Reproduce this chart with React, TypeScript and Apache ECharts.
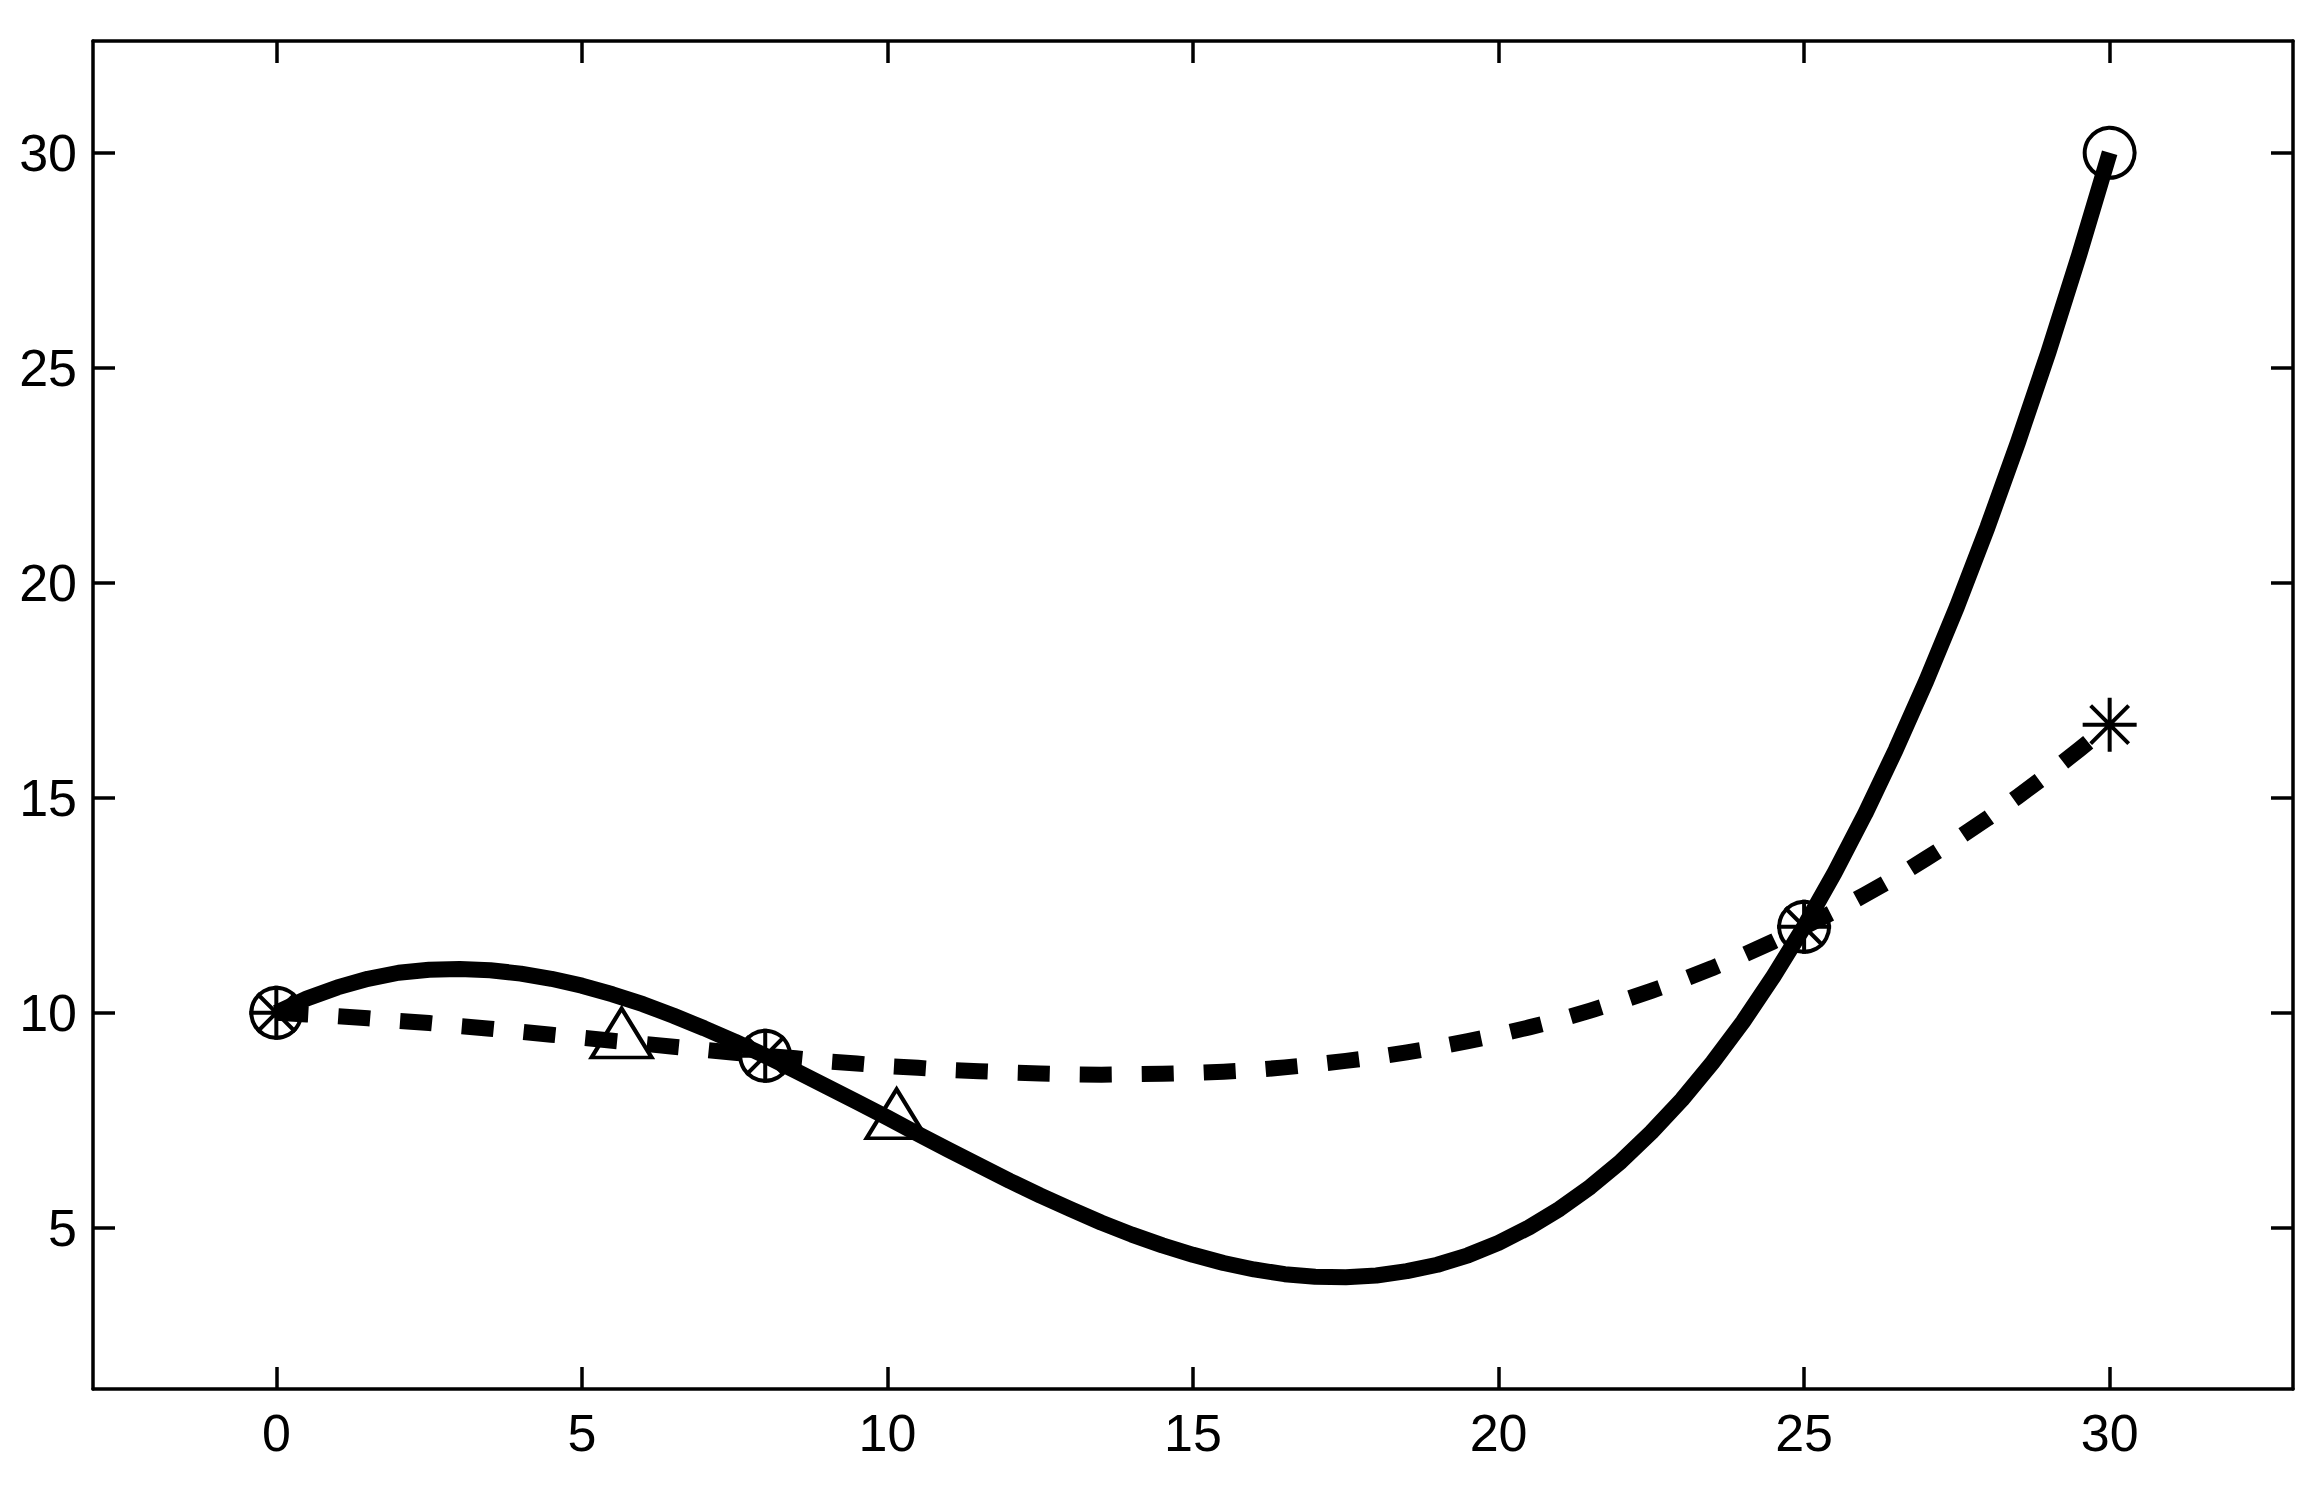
import React, { useEffect, useRef } from "react";
import * as echarts from "echarts";

const xValues = [0,0.5,1,1.5,2,2.5,3,3.5,4,4.5,5,5.5,6,6.5,7,7.5,8,8.5,9,9.5,10,10.5,11,11.5,12,12.5,13,13.5,14,14.5,15,15.5,16,16.5,17,17.5,18,18.5,19,19.5,20,20.5,21,21.5,22,22.5,23,23.5,24,24.5,25,25.5,26,26.5,27,27.5,28,28.5,29,29.5,30];
const solidValues = [10,10.33,10.59,10.79,10.93,11.0,11.02,10.99,10.91,10.79,10.63,10.43,10.2,9.93,9.64,9.33,9,8.65,8.29,7.93,7.56,7.18,6.81,6.45,6.09,5.75,5.43,5.12,4.84,4.59,4.37,4.18,4.03,3.92,3.86,3.85,3.89,3.99,4.14,4.36,4.65,5.01,5.44,5.95,6.54,7.22,7.98,8.84,9.79,10.85,12,13.26,14.63,16.12,17.72,19.44,21.29,23.27,25.37,27.62,30];
const dashedValues = [10,9.96,9.92,9.87,9.81,9.76,9.69,9.63,9.56,9.49,9.42,9.35,9.28,9.21,9.14,9.07,9,8.94,8.87,8.82,8.76,8.72,8.67,8.64,8.61,8.59,8.57,8.56,8.57,8.58,8.6,8.63,8.67,8.73,8.8,8.88,8.97,9.08,9.2,9.34,9.49,9.66,9.84,10.05,10.27,10.51,10.76,11.04,11.34,11.66,12,12.36,12.75,13.15,13.59,14.04,14.52,15.03,15.56,16.12,16.7];
const circlePoints = [[0,10],[8,9],[25,12],[30,30]];
const starPoints = [[0,10],[8,9],[25,12],[30,16.7]];
const trianglePoints = [[5.65,9.53],[10.15,7.65]];
const xTicks = [0,5,10,15,20,25,30];
const yTicks = [5,10,15,20,25,30];

const asterisk =
  "path://M0,25H54V29H0Z M25,0H29V54H25Z M9.41,6.59L47.41,44.59L44.59,47.41L6.59,9.41Z M44.59,6.59L47.41,9.41L9.41,47.41L6.59,44.59Z";

export default function App() {
  const ref = useRef<HTMLDivElement>(null);
  useEffect(() => {
    document.body.style.margin = "0";
    const chart = echarts.init(ref.current!, null, { renderer: "svg" });
    const lineAxis = { show: true, onZero: false, lineStyle: { color: "#000", width: 3.5 } };
    const tick = { inside: true, length: 22, lineStyle: { color: "#000", width: 3.5 } };
    const font = { color: "#000", fontSize: 52, fontFamily: "Liberation Sans, Arial, sans-serif" };
    chart.setOption({
      animation: false,
      backgroundColor: "#fff",
      grid: { left: 93, top: 41, right: 26, bottom: 100, containLabel: false },
      xAxis: [
        {
          type: "value", min: -3, max: 33, position: "bottom",
          axisLine: lineAxis,
          axisTick: { ...tick, customValues: xTicks },
          axisLabel: { ...font, margin: 18, customValues: xTicks },
          splitLine: { show: false },
        },
        {
          type: "value", min: -3, max: 33, position: "top",
          axisLine: lineAxis,
          axisTick: { ...tick, customValues: xTicks },
          axisLabel: { show: false },
          splitLine: { show: false },
        },
      ],
      yAxis: [
        {
          type: "value", min: 1.25, max: 32.6, position: "left",
          axisLine: lineAxis,
          axisTick: { ...tick, customValues: yTicks },
          axisLabel: { ...font, margin: 16, customValues: yTicks },
          splitLine: { show: false },
        },
        {
          type: "value", min: 1.25, max: 32.6, position: "right",
          axisLine: lineAxis,
          axisTick: { ...tick, customValues: yTicks },
          axisLabel: { show: false },
          splitLine: { show: false },
        },
      ],
      series: [
        {
          type: "scatter", data: circlePoints, symbol: "circle", symbolSize: 50, z: 2,
          itemStyle: { color: "transparent", borderColor: "#000", borderWidth: 4, opacity: 1 },
        },
        {
          type: "scatter", data: starPoints, symbol: asterisk, symbolSize: 54, z: 2,
          itemStyle: { color: "#000", opacity: 1 },
        },
        {
          type: "scatter", data: trianglePoints, symbol: "triangle", symbolSize: [60, 49], z: 2,
          itemStyle: { color: "transparent", borderColor: "#000", borderWidth: 4, opacity: 1 },
        },
        {
          type: "line", data: xValues.map((x, i) => [x, solidValues[i]]), smooth: false, showSymbol: false, z: 3,
          lineStyle: { color: "#000", width: 16, cap: "butt", join: "round" },
        },
        {
          type: "line", data: xValues.map((x, i) => [x, dashedValues[i]]), smooth: false, showSymbol: false, z: 3,
          lineStyle: { color: "#000", width: 16, type: [32, 30], cap: "butt", join: "round" },
        },
      ],
    });
    return () => chart.dispose();
  }, []);
  return <div ref={ref} style={{ width: 2319, height: 1489 }} />;
}
